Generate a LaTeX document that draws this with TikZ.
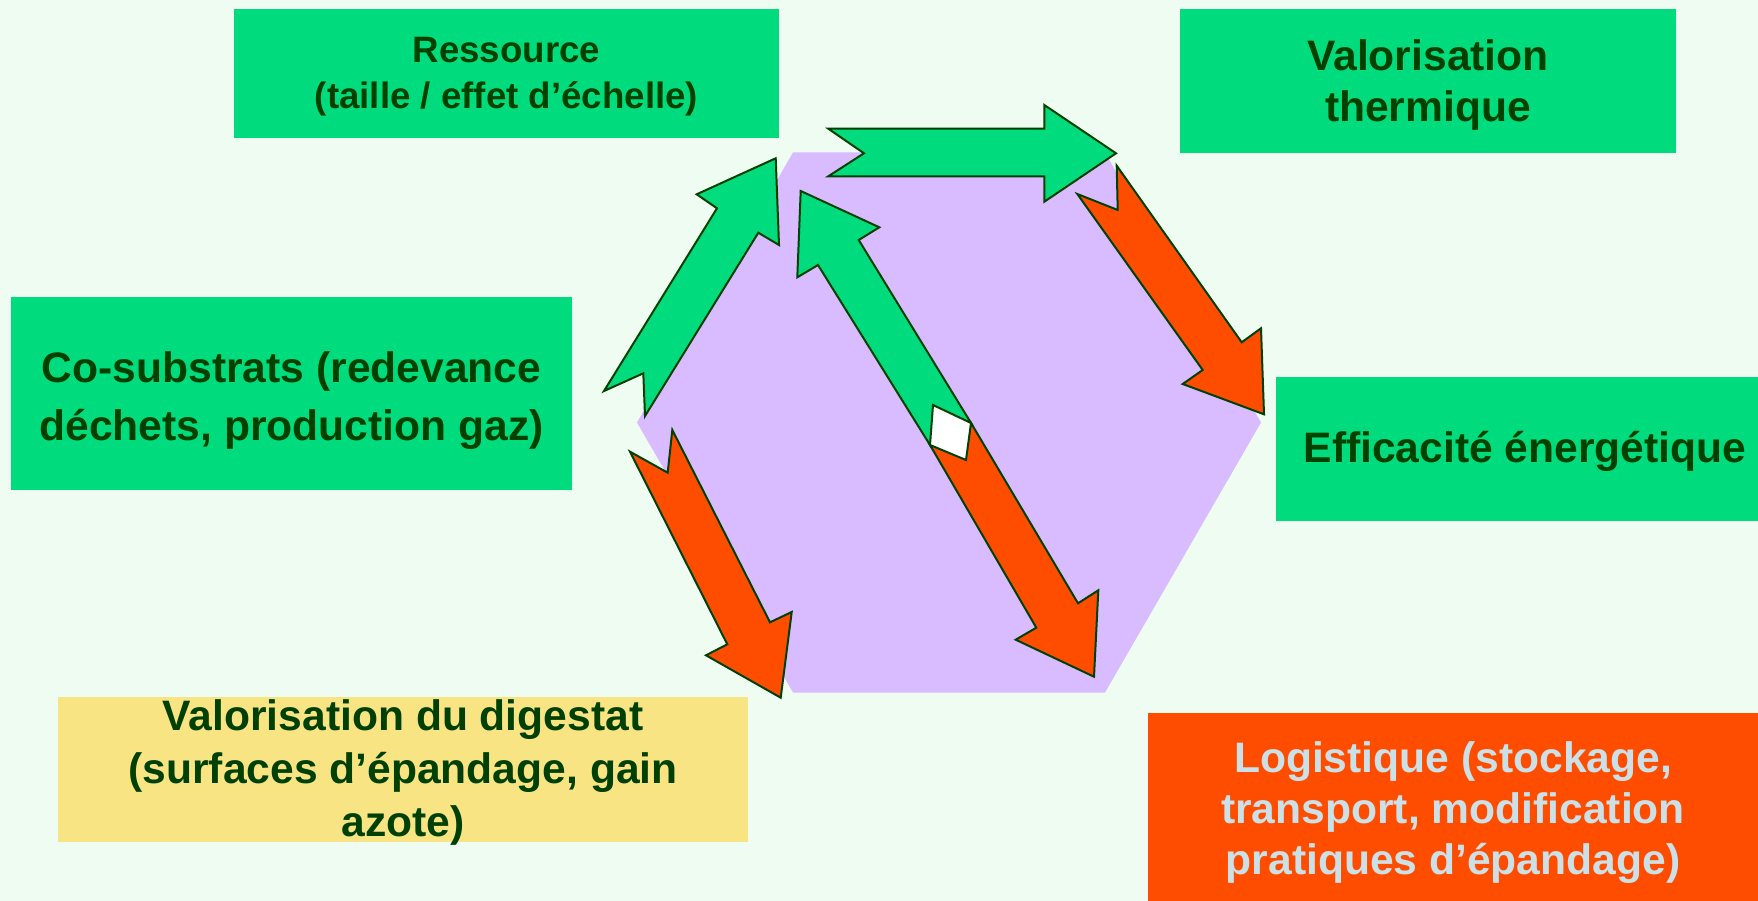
\documentclass[tikz,border=0pt]{standalone}
\usepackage{fontspec}
\setmainfont{Liberation Sans}
\definecolor{bg}{RGB}{238,252,241}
\definecolor{boxgreen}{RGB}{0,220,125}
\definecolor{hexcol}{RGB}{217,187,255}
\definecolor{orng}{RGB}{255,77,0}
\definecolor{yel}{RGB}{249,228,131}
\definecolor{txt}{RGB}{0,64,0}
\definecolor{ltxt}{RGB}{204,224,232}
\definecolor{edge}{RGB}{0,64,0}
\begin{document}
\begin{tikzpicture}[x=1pt,y=-1pt,
  box/.style={fill=boxgreen, inner sep=0pt},
  lbl/.style={inner sep=0pt, align=center, text=txt,
    font=\bfseries\fontsize{42.6}{51}\selectfont},
  garrow/.style={fill=boxgreen, draw=edge, line width=2pt, line join=miter},
  oarrow/.style={fill=orng, draw=edge, line width=2pt, line join=miter}]
\fill[bg] (0,0) rectangle (1758,901);
\useasboundingbox (0,0) rectangle (1758,901);
% hexagon
\fill[hexcol] (637,422.5) -- (793,152.5) -- (1105,152.5) -- (1261,422.5) -- (1105,692.5) -- (793,692.5) -- cycle;
% boxes
\node[box, minimum width=545, minimum height=129] (res) at (506.5,73.5) {};
\node[lbl, font=\bfseries\fontsize{36.7}{46}\selectfont] (resT) at ([yshift=-3pt]res.center)
  {Ressource\\(taille / effet d’échelle)};
\node[box, minimum width=496, minimum height=144] (vth) at (1428,81) {};
\node[lbl] (vthT) at ([yshift=-4pt]vth.center) {Valorisation\\thermique};
\node[box, minimum width=561, minimum height=193] (cos) at (291.5,393.5) {};
\node[lbl, font=\bfseries\fontsize{42.6}{58}\selectfont] (cosT) at ([yshift=-7pt]cos.center)
  {Co-substrats (redevance\\déchets, production gaz)};
\node[box, minimum width=482, minimum height=144] (eff) at (1517,449) {};
\node[lbl] (effT) at ([xshift=8pt,yshift=-2pt]eff.center) {Efficacité énergétique};
\node[box, fill=yel, minimum width=690, minimum height=145] (dig) at (403,769.5) {};
\node[lbl, font=\bfseries\fontsize{42.6}{53}\selectfont] (digT) at ([yshift=-3pt]dig.center)
  {Valorisation du digestat\\(surfaces d’épandage, gain\\azote)};
\node[box, fill=orng, minimum width=610, minimum height=188] (log) at (1453,807) {};
\node[lbl, text=ltxt] (logT) at ([yshift=-6pt]log.center)
  {Logistique (stockage,\\transport, modification\\pratiques d’épandage)};
% white gap between the two middle arrows
\fill[white] (930,445) -- (933,405) -- (971,423) -- (966,460) -- cycle;
% horizontal arrow
\draw[garrow] (828.3,128.7) -- (1044.3,128.7) -- (1044.3,105) -- (1116,153.3)
  -- (1044.3,201.7) -- (1044.3,176.3) -- (828.3,176.3) -- (864,153.3) -- cycle;
% left up arrow
\draw[garrow] (775.7,158.3) -- (779,245) -- (758.3,232.7) -- (645,416)
  -- (643.3,373.3) -- (604,391) -- (717,208.3) -- (696.7,194.3) -- cycle;
% middle green arrow (up-left)
\draw[garrow] (800.7,191) -- (879.3,227.3) -- (858.7,240) -- (971,423)
  -- (933,405) -- (930,445) -- (818,265) -- (797.3,277.3) -- cycle;
% middle orange arrow
\draw[oarrow] (930,445) -- (966,460) -- (971,423) -- (1078,603.3)
  -- (1098.3,590.3) -- (1094,676.7) -- (1015.7,639.7) -- (1036.3,627.7) -- cycle;
% bottom-left orange arrow
\draw[oarrow] (630,451.7) -- (667.7,472.7) -- (672.3,430) -- (770,622.3)
  -- (791.7,612) -- (780.7,697.7) -- (706,655.3) -- (727.3,644.3) -- cycle;
% top-right orange arrow
\draw[oarrow] (1116.7,165.7) -- (1117.7,210) -- (1077.3,194) -- (1202.7,370)
  -- (1182.7,384) -- (1264,414.3) -- (1261,328.3) -- (1241.7,342.3) -- cycle;
\end{tikzpicture}
\end{document}
